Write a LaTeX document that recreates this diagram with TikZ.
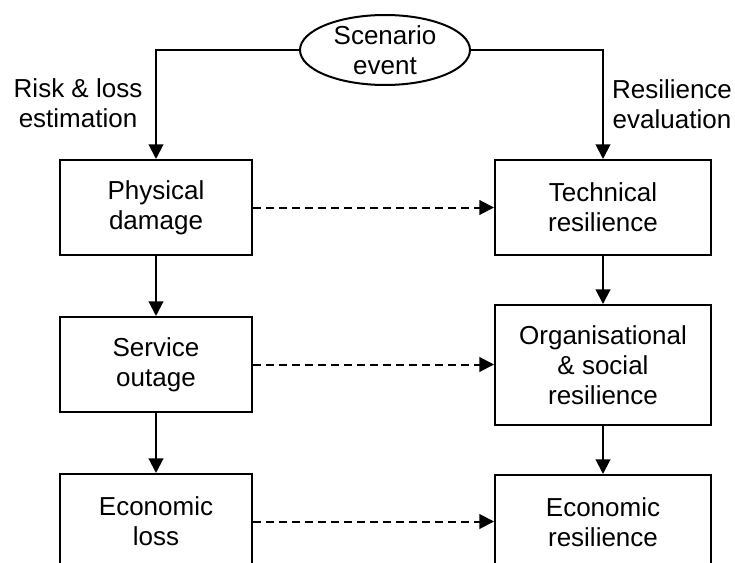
\documentclass[tikz,border=0pt]{standalone}
\usepackage{fontspec}
\setmainfont{Liberation Sans}
\usetikzlibrary{positioning, shapes.geometric, arrows.meta}
\tikzset{
  every node/.style={text=black, font=\fontsize{19.5pt}{22.5pt}\selectfont, align=center, inner sep=0pt},
  box/.style={draw=black, rectangle, minimum width=144pt, minimum height=71.25pt},
  widebox/.style={box, minimum width=162pt},
  arr/.style={draw=black, -{Triangle[length=11pt, width=11pt]}},
  dasharr/.style={arr, dash pattern=on 6pt off 3.75pt}
}

\begin{document}
\begin{tikzpicture}[x=0.75pt, y=-0.75pt, node distance=45pt, line width=1.5pt]
  \clip (0,0) rectangle (735,563);
  % Nodes
  \node (event) [draw=black, ellipse, minimum width=127.5pt, minimum height=52.5pt] at (385,50) {Scenario\\event};
  \node (phys) [box] at (156,207.5) {Physical\\damage};
  \node (serv) [box, below=of phys] {Service\\outage};
  \node (loss) [box, below=of serv] {Economic\\loss};
  \node (tech) [widebox, right=180.75pt of phys] {Technical\\resilience};
  \node (orgsoc) [widebox, below=36pt of tech, minimum height=90pt] {Organisational\\\& social\\resilience};
  \node (ecores) [widebox, below=36pt of orgsoc] {Economic\\resilience};
  \node (riskl) at (78,103) {Risk \& loss\\estimation};
  \node (resl) at (672,104) {Resilience\\evaluation};

  % Connectors
  \draw[arr] (event.west) -| (phys);
  \draw[arr] (event.east) -| (tech);
  \draw[arr] (phys) -- (serv);
  \draw[arr] (serv) -- (loss);
  \draw[arr] (tech) -- (orgsoc);
  \draw[arr] (orgsoc) -- (ecores);
  \draw[dasharr] (phys) -- (tech);
  \draw[dasharr] (serv.east) -- (serv.east -| orgsoc.west);
  \draw[dasharr] (loss.east) -- (loss.east -| ecores.west);
\end{tikzpicture}
\end{document}
